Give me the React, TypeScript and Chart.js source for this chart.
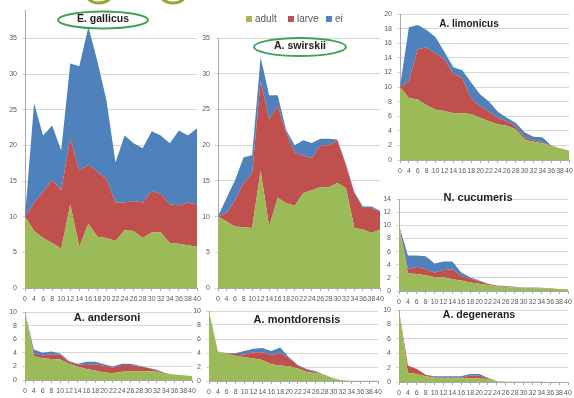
import { useEffect, useRef } from 'react';
import { Chart, registerables } from 'chart.js';

Chart.register(...registerables);
Chart.defaults.font.family = '"Liberation Sans", Arial, sans-serif';

// Sampling days (x categories)
const DAYS = ['0', '4', '6', '8', '10', '12', '14', '16', '18', '20', '22', '24', '26', '28', '30', '32', '34', '36', '38', '40'];

const SERIES = ['adult', 'larve', 'ei'];
const COLORS = ['#9BBB59', '#C0504D', '#4F81BD'];

// E. gallicus
const GALLICUS_ADULT = [10, 8, 7, 6.3, 5.5, 11.7, 5.8, 9, 7.2, 7, 6.6, 8.1, 8, 7, 7.8, 7.8, 6.3, 6.2, 6, 5.8];
const GALLICUS_LARVE = [0, 4, 6.5, 8.9, 8.2, 9.3, 10.7, 8.3, 9.1, 8.3, 5.4, 3.9, 4.2, 5, 5.8, 5.4, 5.4, 5.4, 6, 5.9];
const GALLICUS_EI = [0, 13.9, 7.9, 7.6, 5.6, 10.5, 14.6, 19.3, 15.5, 11, 5.6, 9.4, 8.1, 7.6, 8.4, 8.2, 8.6, 10.5, 9.4, 10.7];

// A. swirskii
const SWIRSKII_ADULT = [10, 9.3, 8.6, 8.5, 8.4, 16.4, 8.6, 12.6, 11.9, 11.5, 13.3, 13.7, 14.1, 14.1, 14.7, 14, 8.4, 8.2, 7.7, 8.2];
const SWIRSKII_LARVE = [0, 1.2, 3.7, 6.2, 7.7, 12.6, 15, 12.9, 9.8, 7.5, 5.2, 4.5, 5.9, 5.9, 6, 3.2, 4.9, 3, 3.5, 2.5];
const SWIRSKII_EI = [0, 2.1, 2.8, 3.6, 2.5, 3.3, 3.4, 1.5, 0.4, 1, 2.2, 2.1, 0.9, 0.9, 0.1, 0.2, 0.1, 0.2, 0.2, 0.1];

// A. limonicus
const LIMONICUS_ADULT = [10, 8.5, 8.3, 7.5, 6.9, 6.7, 6.4, 6.4, 6.3, 5.8, 5.3, 4.9, 4.7, 4.2, 2.8, 2.5, 2.3, 1.9, 1.6, 1.3];
const LIMONICUS_LARVE = [0, 2.3, 6.9, 7.9, 7.7, 7.1, 5.4, 4.8, 2.1, 1.6, 1.3, 0.9, 0.6, 0.4, 0.3, 0.2, 0.1, 0.1, 0, 0];
const LIMONICUS_EI = [0, 7.4, 3.3, 2.4, 2.2, 1, 0.9, 1.1, 2.2, 1.6, 1.4, 0.8, 0.5, 0.5, 0.7, 0.5, 0.7, 0, 0, 0];

// N. cucumeris
const CUCUMERIS_ADULT = [10, 2.7, 2.6, 2.4, 2.1, 2.1, 1.8, 1.6, 1.3, 1.1, 0.9, 0.7, 0.6, 0.55, 0.5, 0.45, 0.4, 0.35, 0.3, 0.25];
const CUCUMERIS_LARVE = [0, 0.6, 1.1, 0.9, 0.7, 1.1, 1.5, 0.7, 0.6, 0.4, 0.2, 0.1, 0.1, 0.05, 0.05, 0.05, 0.05, 0.05, 0, 0];
const CUCUMERIS_EI = [0, 2.1, 1.7, 2, 1.4, 1.3, 1.2, 0.5, 0.2, 0.1, 0, 0.05, 0.05, 0.05, 0, 0.05, 0.05, 0, 0, 0];

// A. andersoni
const ANDERSONI_ADULT = [10, 3.5, 3.2, 3.1, 3, 2.4, 2, 1.6, 1.4, 1.1, 1, 1.2, 1.3, 1.3, 1.3, 1.2, 0.9, 0.8, 0.7, 0.6];
const ANDERSONI_LARVE = [0, 0.4, 0.4, 0.7, 0.7, 0.3, 0.3, 0.6, 0.9, 1, 0.8, 1, 0.9, 0.7, 0.5, 0.2, 0.1, 0, 0, 0];
const ANDERSONI_EI = [0, 0.6, 0.4, 0.4, 0.2, 0.1, 0.1, 0.5, 0.4, 0.2, 0.2, 0.2, 0.2, 0.1, 0, 0.1, 0, 0, 0, 0];

// A. montdorensis
const MONTDORENSIS_ADULT = [10, 4.2, 3.9, 3.6, 3.4, 3.2, 3, 2.4, 2.2, 2.1, 1.8, 1.3, 1.1, 0.9, 0.4, 0.1, 0.05, 0.05, 0.05, 0.05];
const MONTDORENSIS_LARVE = [0, 0, 0.1, 0.3, 0.4, 0.9, 1.1, 1.3, 1.8, 1.2, 0.4, 0.3, 0.2, 0, 0, 0, 0, 0, 0, 0];
const MONTDORENSIS_EI = [0, 0, 0, 0.1, 0.5, 0.5, 0.6, 0.6, 0.8, 0.1, 0.1, 0.1, 0.1, 0, 0, 0, 0, 0, 0, 0];

// A. degenerans
const DEGENERANS_ADULT = [10, 1.3, 1.1, 0.8, 0.6, 0.55, 0.5, 0.5, 0.5, 0.5, 0.4, 0.1, 0.05, 0.05, 0.05, 0.05, 0.05, 0, 0, 0];
const DEGENERANS_LARVE = [0, 1, 0.7, 0.2, 0.1, 0.05, 0.1, 0.1, 0.4, 0.4, 0.1, 0.05, 0, 0, 0, 0, 0, 0, 0, 0];
const DEGENERANS_EI = [0, 0, 0, 0, 0.1, 0.2, 0.2, 0.2, 0.2, 0.2, 0.1, 0, 0, 0, 0, 0, 0, 0, 0, 0];

type Panel = {
  title: string;
  series: number[][];
  max: number;
  step: number;
  // plot area on the page: y-axis x, last category x, top value y, zero line y
  plot: { left: number; right: number; top: number; bottom: number };
  padTop: number;
  titleAt: [number, number];
  titleSize: number;
  ellipse?: [number, number];
  legend?: boolean;
  rings?: boolean;
};

const PANELS: Panel[] = [
  {
    title: 'E. gallicus', series: [GALLICUS_ADULT, GALLICUS_LARVE, GALLICUS_EI],
    max: 39, step: 5, plot: { left: 25, right: 197, top: 10, bottom: 288 }, padTop: 10,
    titleAt: [103, 19], titleSize: 10.5, ellipse: [45, 8.5], rings: true,
  },
  {
    title: 'A. swirskii', series: [SWIRSKII_ADULT, SWIRSKII_LARVE, SWIRSKII_EI],
    max: 35, step: 5, plot: { left: 218, right: 380, top: 38, bottom: 288 }, padTop: 30,
    titleAt: [300, 46], titleSize: 10.5, ellipse: [46, 9], legend: true,
  },
  {
    title: 'A. limonicus', series: [LIMONICUS_ADULT, LIMONICUS_LARVE, LIMONICUS_EI],
    max: 20, step: 2, plot: { left: 400, right: 569, top: 14, bottom: 160 }, padTop: 10,
    titleAt: [469, 24], titleSize: 10,
  },
  {
    title: 'N. cucumeris', series: [CUCUMERIS_ADULT, CUCUMERIS_LARVE, CUCUMERIS_EI],
    max: 14, step: 2, plot: { left: 399, right: 568, top: 199, bottom: 291 }, padTop: 6,
    titleAt: [478, 198], titleSize: 11,
  },
  {
    title: 'A. andersoni', series: [ANDERSONI_ADULT, ANDERSONI_LARVE, ANDERSONI_EI],
    max: 10, step: 2, plot: { left: 25, right: 192, top: 312, bottom: 380 }, padTop: 6,
    titleAt: [107, 318], titleSize: 11,
  },
  {
    title: 'A. montdorensis', series: [MONTDORENSIS_ADULT, MONTDORENSIS_LARVE, MONTDORENSIS_EI],
    max: 10, step: 2, plot: { left: 209, right: 378, top: 311, bottom: 381 }, padTop: 6,
    titleAt: [297, 320], titleSize: 11,
  },
  {
    title: 'A. degenerans', series: [DEGENERANS_ADULT, DEGENERANS_LARVE, DEGENERANS_EI],
    max: 10, step: 2, plot: { left: 399, right: 568, top: 310, bottom: 382 }, padTop: 6,
    titleAt: [479, 315], titleSize: 10.5,
  },
];

const Y_AXIS_W = 30;
const X_AXIS_H = 20;
const PAD_RIGHT = 6;
const GRID = '#d6d6d6';
const AXIS = '#a8a8a8';
const TICK_TEXT = '#5a5a5a';

function frame(p: Panel) {
  const left = p.plot.left - Y_AXIS_W;
  const top = p.plot.top - p.padTop;
  const width = p.plot.right + PAD_RIGHT - left;
  const height = p.plot.bottom + X_AXIS_H - top;
  return { left, top, width, height };
}

function decorPlugin(p: Panel, ox: number, oy: number) {
  return {
    id: 'panelDecor',
    afterDatasetsDraw(chart: Chart) {
      const ctx = chart.ctx;
      ctx.save();
      if (p.rings) {
        ctx.strokeStyle = '#98a42c';
        ctx.lineWidth = 3;
        for (const cx of [99, 173]) {
          ctx.beginPath();
          ctx.ellipse(cx - ox, -3 - oy, 11, 6, 0, 0, Math.PI);
          ctx.stroke();
        }
      }
      const [tx, ty] = p.titleAt;
      if (p.ellipse) {
        ctx.beginPath();
        ctx.ellipse(tx - ox, ty - oy + 1, p.ellipse[0], p.ellipse[1], 0, 0, Math.PI * 2);
        ctx.strokeStyle = '#3da35a';
        ctx.lineWidth = 2;
        ctx.stroke();
      }
      ctx.font = `bold ${p.titleSize}px "Liberation Sans", Arial, sans-serif`;
      ctx.fillStyle = '#1e1e1e';
      ctx.textAlign = 'center';
      ctx.textBaseline = 'middle';
      ctx.fillText(p.title, tx - ox, ty - oy);
      if (p.legend) {
        const items: [number, string, string][] = [
          [246, SERIES[0], COLORS[0]],
          [288, SERIES[1], COLORS[1]],
          [326, SERIES[2], COLORS[2]],
        ];
        ctx.font = '10px "Liberation Sans", Arial, sans-serif';
        ctx.textAlign = 'left';
        for (const [lx, name, color] of items) {
          ctx.fillStyle = color;
          ctx.fillRect(lx - ox, 16 - oy, 6, 6);
          ctx.fillStyle = '#595959';
          ctx.fillText(name, lx + 9 - ox, 19.5 - oy);
        }
      }
      ctx.restore();
    },
  };
}

function PanelChart({ panel }: { panel: Panel }) {
  const ref = useRef<HTMLCanvasElement | null>(null);
  const f = frame(panel);

  useEffect(() => {
    if (!ref.current) return;
    const step = panel.step;
    const chart = new Chart(ref.current, {
      type: 'line',
      data: {
        labels: DAYS,
        datasets: panel.series.map((values, i) => ({
          label: SERIES[i],
          data: values,
          backgroundColor: COLORS[i],
          borderColor: 'transparent',
          borderWidth: 0,
          pointRadius: 0,
          tension: 0,
          fill: i === 0 ? 'origin' : '-1',
        })),
      },
      options: {
        animation: false,
        responsive: false,
        devicePixelRatio: 1,
        layout: { padding: { left: 0, right: PAD_RIGHT, top: panel.padTop, bottom: 0 } },
        plugins: { legend: { display: false }, tooltip: { enabled: false } },
        scales: {
          x: {
            type: 'category',
            offset: false,
            ticks: { autoSkip: false, maxRotation: 0, minRotation: 0, padding: 4, color: TICK_TEXT, font: { size: 7 } },
            grid: { drawOnChartArea: false, drawTicks: true, tickLength: 3, color: AXIS },
            border: { display: true, color: AXIS },
            afterFit: (s: any) => {
              s.height = X_AXIS_H;
              s.paddingLeft = 0;
              s.paddingRight = 0;
            },
          },
          y: {
            stacked: true,
            min: 0,
            max: panel.max,
            ticks: { stepSize: step, padding: 5, color: TICK_TEXT, font: { size: 7 } },
            grid: { color: GRID, lineWidth: 1, drawTicks: true, tickLength: 3 },
            border: { display: true, color: AXIS },
            afterBuildTicks: (s: any) => {
              s.ticks = s.ticks.filter((t: any) => Math.abs(t.value / step - Math.round(t.value / step)) < 1e-6);
            },
            afterFit: (s: any) => {
              s.width = Y_AXIS_W;
              s.paddingTop = 0;
              s.paddingBottom = 0;
            },
          },
        },
      },
      plugins: [decorPlugin(panel, f.left, f.top)],
    } as any);
    return () => chart.destroy();
  }, [panel]);

  return (
    <canvas
      ref={ref}
      width={f.width}
      height={f.height}
      style={{ position: 'absolute', left: f.left, top: f.top, width: f.width, height: f.height }}
    />
  );
}

export default function App() {
  return (
    <div
      style={{
        position: 'fixed',
        left: 0,
        top: 0,
        width: 574,
        height: 398,
        overflow: 'hidden',
        background: '#ffffff',
      }}
    >
      {PANELS.map((p) => (
        <PanelChart key={p.title} panel={p} />
      ))}
    </div>
  );
}
